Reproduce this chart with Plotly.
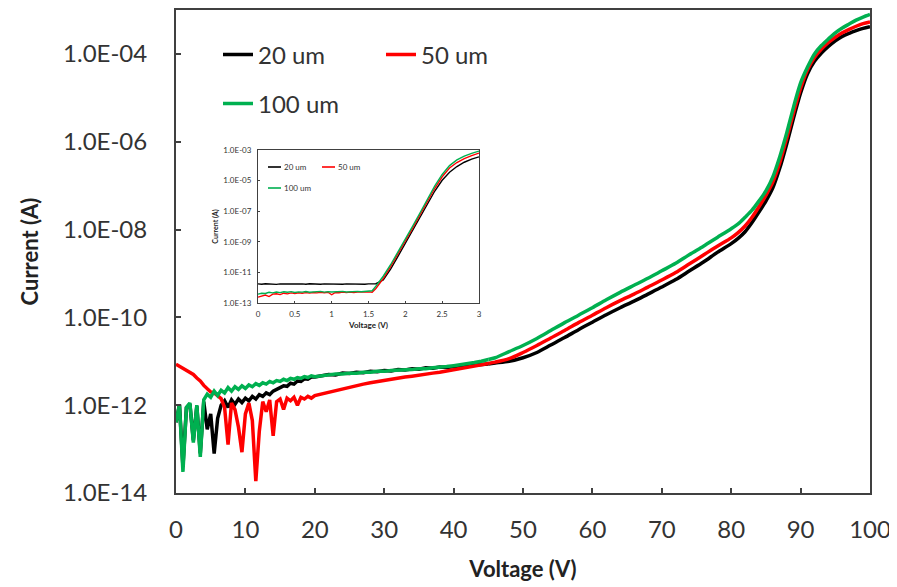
import plotly.graph_objects as go

# ---------------- main chart data: voltage (V) and log10 of current (A) ----------------
V_MAIN = [0, 0.5, 1, 1.5, 2, 2.5, 3, 3.5, 4, 4.5,
          5, 5.5, 6, 6.5, 7, 7.5, 8, 8.5, 9, 9.5,
          10, 10.5, 11, 11.5, 12, 12.5, 13, 13.5, 14, 14.5,
          15, 15.5, 16, 16.5, 17, 17.5, 18, 18.5, 19, 19.5,
          20,
          21, 22, 23, 24, 25, 26, 27, 28, 29, 30, 31, 32, 33, 34, 35,
          36, 37, 38, 39, 40, 41, 42, 43, 44, 45,
          46, 48, 50, 52, 54, 56, 58, 60, 62, 64, 66, 68, 70, 72, 74, 76, 78, 80,
          81, 82, 83, 84, 85, 86, 87, 88, 89, 90,
          91, 92, 93, 94, 95, 96, 97, 98, 99, 100]

LOG_20UM = [-12.39, -11.99, -13.40, -12.06, -11.97, -12.80, -12.02, -13.10, -11.92, -12.55,
            -12.20, -13.10, -12.30, -12.00, -11.90, -12.05, -11.88, -11.98, -11.86, -11.94,
            -11.84, -11.90, -11.80, -11.86, -11.76, -11.80, -11.72, -11.76, -11.68, -11.64,
            -11.62, -11.56, -11.57, -11.50, -11.52, -11.45, -11.46, -11.40, -11.41, -11.36,
            -11.36,
            -11.33, -11.30, -11.31, -11.27, -11.28, -11.25, -11.26, -11.23, -11.24, -11.21,
            -11.22, -11.19, -11.20, -11.17, -11.18, -11.15, -11.16, -11.13, -11.14, -11.11,
            -11.10, -11.10, -11.08, -11.07, -11.06,
            -11.04, -11.00, -10.92, -10.80, -10.63, -10.46, -10.28, -10.11, -9.94, -9.78,
            -9.63, -9.47, -9.31, -9.14, -8.94, -8.74, -8.52, -8.32,
            -8.20, -8.05, -7.84, -7.60, -7.35, -7.05, -6.60, -6.05, -5.45, -4.89,
            -4.45, -4.17, -3.98, -3.83, -3.70, -3.60, -3.53, -3.47, -3.42, -3.38]

LOG_50UM = [-11.07, -11.12, -11.15, -11.22, -11.26, -11.30, -11.38, -11.45, -11.55, -11.62,
            -11.70, -11.72, -11.78, -11.85, -12.05, -12.90, -11.95, -12.10, -12.50, -13.07,
            -12.20, -11.95, -12.35, -13.73, -12.60, -11.92, -12.15, -11.88, -12.70, -11.92,
            -11.86, -12.10, -11.84, -11.90, -11.82, -12.00, -11.82, -11.86, -11.80, -11.84,
            -11.78,
            -11.74, -11.70, -11.66, -11.62, -11.59, -11.55, -11.52, -11.49, -11.46, -11.44,
            -11.41, -11.39, -11.36, -11.34, -11.31, -11.29, -11.27, -11.25, -11.22, -11.20,
            -11.17, -11.14, -11.11, -11.08, -11.05,
            -11.02, -10.94, -10.80, -10.64, -10.47, -10.30, -10.12, -9.95, -9.78, -9.62,
            -9.47, -9.31, -9.15, -8.98, -8.78, -8.58, -8.38, -8.19,
            -8.07, -7.92, -7.72, -7.48, -7.22, -6.92, -6.48, -5.92, -5.33, -4.78,
            -4.36, -4.08, -3.89, -3.74, -3.62, -3.52, -3.44, -3.37, -3.31, -3.27]

LOG_100UM = [-12.39, -11.98, -13.52, -12.05, -11.95, -12.85, -12.00, -13.18, -11.88, -11.75,
             -11.82, -11.68, -11.78, -11.66, -11.72, -11.60, -11.68, -11.58, -11.64, -11.56,
             -11.62, -11.54, -11.58, -11.51, -11.55, -11.49, -11.52, -11.46, -11.49, -11.44,
             -11.46, -11.41, -11.44, -11.39, -11.41, -11.37, -11.39, -11.35, -11.37, -11.33,
             -11.35,
             -11.32, -11.31, -11.29, -11.29, -11.27, -11.27, -11.25, -11.25, -11.23, -11.23,
             -11.21, -11.21, -11.19, -11.19, -11.17, -11.17, -11.15, -11.14, -11.12, -11.10,
             -11.08, -11.06, -11.03, -11.00, -10.96,
             -10.92, -10.78, -10.64, -10.48, -10.30, -10.12, -9.95, -9.78, -9.60, -9.43,
             -9.27, -9.11, -8.94, -8.77, -8.57, -8.38, -8.18, -7.98,
             -7.87, -7.72, -7.56, -7.35, -7.12, -6.80, -6.34, -5.80, -5.20, -4.66,
             -4.30, -4.00, -3.81, -3.66, -3.52, -3.41, -3.32, -3.23, -3.16, -3.10]

# index in V_MAIN where the smooth (noise-free) part of the curves begins (V = 45)
SMOOTH_START = 65

# ---------------- inset data ----------------
V_INSET = [0, 0.05, 0.1, 0.15, 0.2, 0.25, 0.3, 0.35, 0.4, 0.45,
           0.5, 0.55, 0.6, 0.65, 0.7, 0.75, 0.8, 0.85, 0.9, 0.95,
           1.0, 1.05, 1.1, 1.15, 1.2, 1.25, 1.3, 1.35, 1.4, 1.45,
           1.5, 1.55, 1.6, 1.7, 1.8, 1.9, 2.0, 2.1, 2.2, 2.3,
           2.4, 2.5, 2.6, 2.7, 2.8, 2.9, 3.0]

INSET_20UM = [-11.75, -11.77, -11.74, -11.76, -11.75, -11.78, -11.75, -11.76, -11.74, -11.77,
              -11.75, -11.76, -11.75, -11.77, -11.74, -11.76, -11.75, -11.77, -11.75, -11.76,
              -11.74, -11.76, -11.75, -11.77, -11.75, -11.76, -11.74, -11.76, -11.75, -11.77,
              -11.75, -11.76, -11.74, -11.50, -10.78, -9.95, -9.10, -8.24, -7.37, -6.50,
              -5.68, -4.98, -4.45, -4.08, -3.80, -3.60, -3.45]

INSET_50UM = [-12.62, -12.55, -12.48, -12.58, -12.42, -12.40, -12.45, -12.36, -12.40, -12.34,
              -12.38, -12.33, -12.36, -12.32, -12.35, -12.31, -12.34, -12.30, -12.33, -12.30,
              -12.46, -12.31, -12.33, -12.29, -12.32, -12.29, -12.31, -12.28, -12.30, -12.28,
              -12.27, -12.30, -12.05, -11.40, -10.62, -9.80, -8.96, -8.10, -7.22, -6.35,
              -5.50, -4.75, -4.18, -3.82, -3.56, -3.37, -3.20]

INSET_100UM = [-12.42, -12.36, -12.38, -12.30, -12.34, -12.28, -12.32, -12.27, -12.30, -12.26,
               -12.31, -12.27, -12.29, -12.25, -12.30, -12.27, -12.28, -12.24, -12.29, -12.26,
               -12.28, -12.25, -12.27, -12.24, -12.28, -12.25, -12.27, -12.24, -12.26, -12.25,
               -12.22, -12.20, -11.90, -11.25, -10.50, -9.68, -8.85, -7.98, -7.10, -6.22,
               -5.35, -4.60, -4.02, -3.65, -3.40, -3.22, -3.07]

SERIES = ["20 um", "50 um", "100 um"]
COLORS = ["#000000", "#ff0000", "#00b050"]

MAIN_YTICK_VALS = [1e-14, 1e-12, 1e-10, 1e-8, 1e-6, 1e-4]
MAIN_YTICK_TEXT = ["1.0E-14", "1.0E-12", "1.0E-10", "1.0E-08", "1.0E-06", "1.0E-04"]
MAIN_XTICKS = [0, 10, 20, 30, 40, 50, 60, 70, 80, 90, 100]

INSET_YTICK_VALS = [1e-13, 1e-11, 1e-9, 1e-7, 1e-5, 1e-3]
INSET_YTICK_TEXT = ["1.0E-13", "1.0E-11", "1.0E-09", "1.0E-07", "1.0E-05", "1.0E-03"]
INSET_XTICK_VALS = [0, 0.5, 1, 1.5, 2, 2.5, 3]
INSET_XTICK_TEXT = ["0", "0.5", "1", "1.5", "2", "2.5", "3"]


def to_amps(logs):
    return [10 ** v for v in logs]


FONT = "Lato"
TXT = "#333333"

fig = go.Figure()

main_logs = [LOG_20UM, LOG_50UM, LOG_100UM]
legends = ["legend", "legend", "legend2"]
for name, logs, col, lg in zip(SERIES, main_logs, COLORS, legends):
    # noisy low-voltage part, straight segments
    fig.add_trace(go.Scatter(x=V_MAIN[:SMOOTH_START + 1], y=to_amps(logs[:SMOOTH_START + 1]),
                             mode="lines", name=name, legendgroup=name,
                             line=dict(color=col, width=3.5), legend=lg,
                             xaxis="x", yaxis="y"))
    # smooth high-voltage part
    fig.add_trace(go.Scatter(x=V_MAIN[SMOOTH_START:], y=to_amps(logs[SMOOTH_START:]),
                             mode="lines", name=name, legendgroup=name, showlegend=False,
                             line=dict(color=col, width=3.5, shape="spline", smoothing=0.8),
                             legend=lg, xaxis="x", yaxis="y"))

inset_logs = [INSET_20UM, INSET_50UM, INSET_100UM]
for name, logs, col in zip(SERIES, inset_logs, COLORS):
    fig.add_trace(go.Scatter(x=V_INSET, y=to_amps(logs), mode="lines", name=name,
                             line=dict(color=col, width=1.4), showlegend=False,
                             xaxis="x2", yaxis="y2"))

# page layout (the html body adds an 8px offset, so the figure is 8px smaller)
OFF = 8
W, H = 897 - OFF, 587 - OFF
L, R, T, B = 176 - OFF, 27, 10 - OFF, 94
PW, PH = W - L - R, H - T - B


def px(xp):  # page x -> paper fraction
    return (xp - OFF - L) / PW


def py(yp):  # page y -> paper fraction
    return (OFF + H - B - yp) / PH


axis_common = dict(showline=True, linecolor="#404040", mirror=True, showgrid=False,
                   zeroline=False, ticks="inside", tickcolor="#404040", automargin=False)

fig.update_layout(
    width=W, height=H,
    margin=dict(l=L, r=R, t=T, b=B, autoexpand=False),
    paper_bgcolor="white", plot_bgcolor="white",
    font=dict(family=FONT, color=TXT),
    xaxis=dict(range=[0, 100], tickvals=MAIN_XTICKS, ticklen=5, linewidth=2, tickwidth=1.5,
               tickfont=dict(size=24, color=TXT), ticklabelstandoff=14,
               title=dict(text="<b>Voltage (V)</b>", font=dict(size=22, color="#222222"), standoff=20),
               **axis_common),
    yaxis=dict(type="log", range=[-14, -3], tickvals=MAIN_YTICK_VALS, ticktext=MAIN_YTICK_TEXT,
               ticklen=5, linewidth=2, tickwidth=1.5,
               tickfont=dict(size=24, color=TXT), ticklabelstandoff=22,
               title=dict(text="<b>Current (A)</b>", font=dict(size=22, color="#222222"), standoff=18),
               **axis_common),
    xaxis2=dict(domain=[px(258), px(479)], anchor="y2", range=[0, 3],
                tickvals=INSET_XTICK_VALS, ticktext=INSET_XTICK_TEXT, ticklen=2, linewidth=1,
                tickfont=dict(size=8, color=TXT), ticklabelstandoff=3,
                title=dict(text="<b>Voltage (V)</b>", font=dict(size=8, color="#222222"), standoff=4),
                **axis_common),
    yaxis2=dict(domain=[py(303), py(150)], anchor="x2", type="log", range=[-13, -3],
                tickvals=INSET_YTICK_VALS, ticktext=INSET_YTICK_TEXT, ticklen=2, linewidth=1,
                tickfont=dict(size=8, color=TXT), ticklabelstandoff=4,
                title=dict(text="<b>Current (A)</b>", font=dict(size=7, color="#222222"), standoff=3),
                **axis_common),
    legend=dict(orientation="h", x=px(218), y=py(55), xanchor="left", yanchor="middle",
                font=dict(size=24, color=TXT), bgcolor="rgba(0,0,0,0)",
                entrywidth=118, entrywidthmode="pixels", itemwidth=30),
    legend2=dict(orientation="h", x=px(218), y=py(104), xanchor="left", yanchor="middle",
                 font=dict(size=24, color=TXT), bgcolor="rgba(0,0,0,0)", itemwidth=30),
    showlegend=True,
)

# inset legend (short sample lines + labels)
inset_legend = [("20 um", COLORS[0], 268, 167), ("50 um", COLORS[1], 322, 167), ("100 um", COLORS[2], 268, 188)]
for name, col, x0, y0 in inset_legend:
    fig.add_shape(type="line", xref="paper", yref="paper", x0=px(x0), x1=px(x0 + 13),
                  y0=py(y0), y1=py(y0), line=dict(color=col, width=1.6))
    fig.add_annotation(xref="paper", yref="paper", x=px(x0 + 14), y=py(y0), text=name,
                       showarrow=False, xanchor="left", yanchor="middle",
                       font=dict(size=8, color=TXT, family=FONT))

fig.write_html("out.html")
